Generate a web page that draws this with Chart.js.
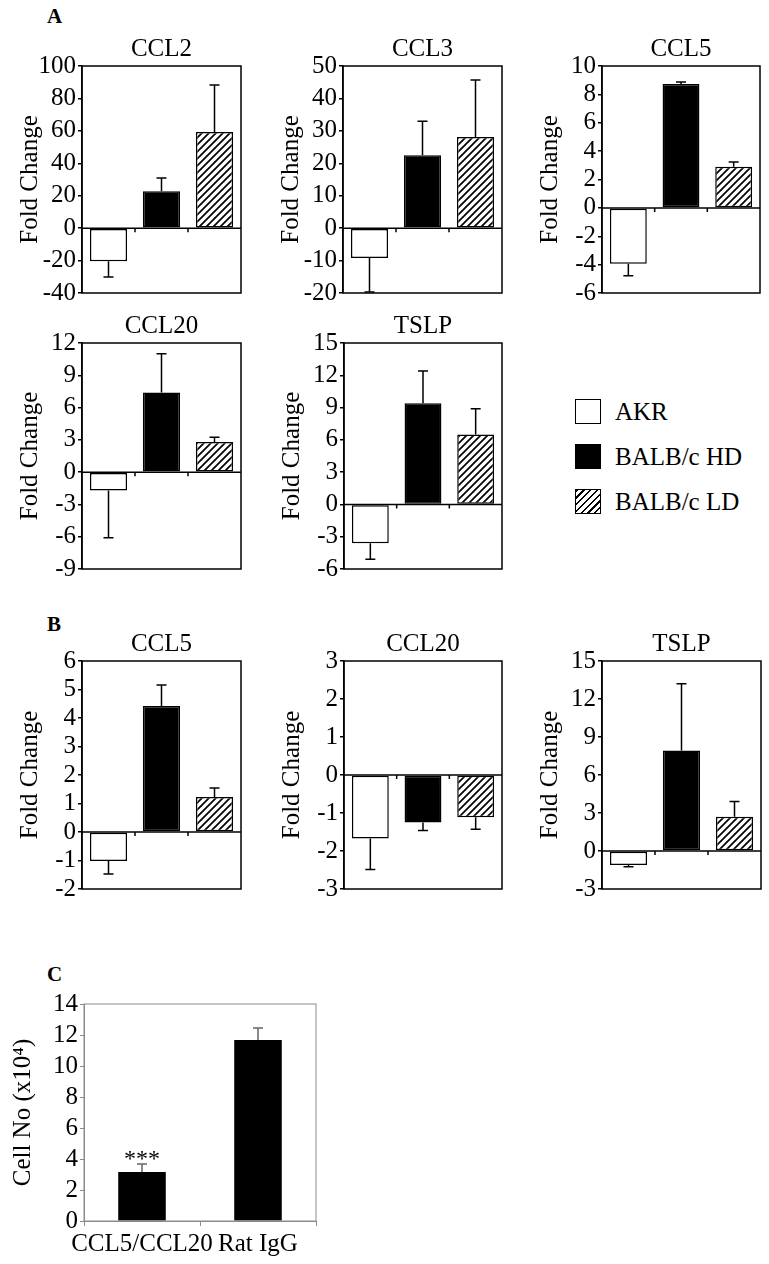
<!DOCTYPE html>
<html>
<head>
<meta charset="utf-8">
<script src="https://cdn.jsdelivr.net/npm/chart.js@4/dist/chart.umd.min.js"></script>
<style>
  body { margin: 0; background: #fff; }
  #fig { position: relative; width: 769px; height: 1264px; background: #fff; font-family: "Liberation Serif", "Times New Roman", serif; }
  .tag { position: absolute; font-weight: bold; font-size: 21px; color: #000; }
  .lg-box { position: absolute; left: 575px; width: 26px; height: 25px; border: 1.5px solid #000; box-sizing: border-box; }
  .lg-txt { position: absolute; left: 615px; font-size: 25px; color: #000; line-height: 26px; }
</style>
</head>
<body>
<div id="fig">
  <div class="tag" style="left:47px;top:4px">A</div>
  <div class="tag" style="left:47px;top:612px">B</div>
  <div class="tag" style="left:47px;top:962px">C</div>

  <div class="lg-box" style="top:399px;background:#fff"></div>
  <div class="lg-txt" style="top:399px">AKR</div>
  <div class="lg-box" style="top:444px;background:#000"></div>
  <div class="lg-txt" style="top:444px">BALB/c HD</div>
  <div class="lg-box" style="top:489px;background:repeating-linear-gradient(135deg,#000 0 1.6px,#fff 1.6px 4.8px)"></div>
  <div class="lg-txt" style="top:489px">BALB/c LD</div>
</div>
<script>
// groups
const groups = ['AKR', 'BALB/c HD', 'BALB/c LD'];

// panel A
const aCCL2 = [-20.4, 22.8, 59.3];
const aCCL2Err = [9.8, 8.1, 29];
const aCCL2Axis = [-40, 100, 20];

const aCCL3 = [-9.2, 22.5, 28.1];
const aCCL3Err = [10.5, 10.5, 17.6];
const aCCL3Axis = [-20, 50, 10];

const aCCL5 = [-3.94, 8.73, 2.89];
const aCCL5Err = [0.85, 0.14, 0.35];
const aCCL5Axis = [-6, 10, 2];

const aCCL20 = [-1.7, 7.4, 2.8];
const aCCL20Err = [4.4, 3.6, 0.45];
const aCCL20Axis = [-9, 12, 3];

const aTSLP = [-3.6, 9.4, 6.5];
const aTSLPErr = [1.5, 3.0, 2.4];
const aTSLPAxis = [-6, 15, 3];

// panel B
const bCCL5 = [-1.02, 4.42, 1.23];
const bCCL5Err = [0.45, 0.74, 0.31];
const bCCL5Axis = [-2, 6, 1];

const bCCL20 = [-1.67, -1.25, -1.11];
const bCCL20Err = [0.82, 0.21, 0.32];
const bCCL20Axis = [-3, 3, 1];

const bTSLP = [-1.1, 7.94, 2.7];
const bTSLPErr = [0.15, 5.26, 1.2];
const bTSLPAxis = [-3, 15, 3];

// panel C
const cLabels = ['CCL5/CCL20', 'Rat IgG'];
const cValues = [3.16, 11.68];
const cErr = [0.52, 0.77];
const cAxis = [0, 14, 2];

const FONT = '"Liberation Serif", "Times New Roman", serif';

function hatch() {
    const c = document.createElement('canvas');
    c.width = 7; c.height = 7;
    const g = c.getContext('2d');
    g.fillStyle = '#fff';
    g.fillRect(0, 0, 7, 7);
    g.strokeStyle = '#000';
    g.lineWidth = 1.7;
    g.beginPath();
    g.moveTo(-1, 8); g.lineTo(8, -1);
    g.moveTo(-1, 1); g.lineTo(1, -1);
    g.moveTo(6, 8); g.lineTo(8, 6);
    g.stroke();
    return g.createPattern(c, 'repeat');
}

// frame, zero line, error bars, titles
const deco = {
    id: 'deco',
    afterDatasetsDraw(chart) {
        const o = chart.options.plugins.deco;
        const { ctx, chartArea: a, scales: { x, y } } = chart;
        const meta = chart.getDatasetMeta(0);
        const vals = chart.data.datasets[0].data;
        ctx.save();
        ctx.lineCap = 'butt';

        // error bars
        ctx.strokeStyle = o.errColor;
        ctx.lineWidth = 1.5;
        vals.forEach((v, i) => {
            const end = v + Math.sign(v) * o.err[i];
            const px = meta.data[i].x;
            const p0 = y.getPixelForValue(v), p1 = y.getPixelForValue(end);
            ctx.beginPath();
            ctx.moveTo(px, p0); ctx.lineTo(px, p1);
            ctx.moveTo(px - 5, p1); ctx.lineTo(px + 5, p1);
            ctx.stroke();
        });

        // frame
        ctx.strokeStyle = o.frameColor;
        ctx.lineWidth = o.frameWidth;
        ctx.strokeRect(a.left, a.top, a.right - a.left, a.bottom - a.top);

        // zero line with category ticks
        if (o.zero) {
            const y0 = y.getPixelForValue(0);
            ctx.beginPath();
            ctx.moveTo(a.left, y0); ctx.lineTo(a.right, y0);
            for (let i = 0; i < vals.length - 1; i++) {
                const bx = (x.getPixelForValue(i) + x.getPixelForValue(i + 1)) / 2;
                ctx.moveTo(bx, y0); ctx.lineTo(bx, y0 + 4);
            }
            ctx.stroke();
        }

        ctx.fillStyle = '#000';
        ctx.textAlign = 'center';
        ctx.textBaseline = 'middle';
        if (o.title) {
            ctx.font = `25px ${FONT}`;
            ctx.fillText(o.title, (a.left + a.right) / 2, a.top - 17);
        }
        if (o.star) {
            const i = o.star.index;
            const top = y.getPixelForValue(vals[i] + o.err[i]);
            ctx.font = `24px ${FONT}`;
            ctx.fillText(o.star.text, meta.data[i].x, top - 4);
        }
        ctx.restore();
    }
};

function makePanel(o) {
    const axisW = o.axisW || 67;
    const padTop = 40, padRight = 12;
    const xH = o.labels ? 40 : 0;
    const padBottom = o.labels ? 4 : 18;
    const w = o.R - o.L + axisW + padRight;
    const h = o.B - o.T + padTop + xH + padBottom;
    const cv = document.createElement('canvas');
    cv.width = w; cv.height = h;
    cv.style.cssText = `position:absolute;left:${o.L - axisW}px;top:${o.T - padTop}px;width:${w}px;height:${h}px`;
    document.getElementById('fig').appendChild(cv);

    const axisColor = o.axisColor || '#000';
    const [min, max, step] = o.axis;
    const fills = o.fills || ['#fff', '#000', hatch()];

    return new Chart(cv, {
        type: 'bar',
        data: {
            labels: o.labels || groups,
            datasets: [{
                data: o.values,
                backgroundColor: fills,
                borderColor: '#000',
                borderWidth: o.labels ? 0 : 1.5,
                borderSkipped: false,
                categoryPercentage: 1,
                barPercentage: o.barPct || 0.7
            }]
        },
        options: {
            responsive: false,
            animation: false,
            layout: { padding: { left: 0, top: padTop, right: padRight, bottom: padBottom } },
            plugins: {
                legend: { display: false },
                tooltip: { enabled: false },
                deco: {
                    err: o.err, title: o.title, zero: !o.labels, star: o.star,
                    errColor: o.errColor || '#000',
                    frameColor: axisColor, frameWidth: o.labels ? 1 : 1.5
                }
            },
            scales: {
                x: {
                    display: !!o.labels,
                    afterFit: s => { s.height = xH; },
                    grid: { offset: true, drawOnChartArea: false, drawTicks: true, tickLength: 5, color: axisColor, lineWidth: 1 },
                    border: { display: true, color: axisColor, width: 1 },
                    ticks: { autoSkip: false, color: '#000', font: { family: FONT, size: 25 }, padding: 3, maxRotation: 0 }
                },
                y: {
                    min, max,
                    afterFit: s => { s.width = axisW; },
                    grid: { drawOnChartArea: false, drawTicks: true, tickLength: 4, color: axisColor, lineWidth: o.labels ? 1 : 1.5 },
                    border: { display: true, color: axisColor, width: o.labels ? 1 : 1.5 },
                    ticks: { stepSize: step, autoSkip: false, color: '#000', font: { family: FONT, size: 25 }, padding: 2 },
                    title: { display: true, text: o.yTitle || 'Fold Change', color: '#000', font: { family: FONT, size: 25 }, padding: { top: 0, bottom: 0 } }
                }
            }
        },
        plugins: [deco]
    });
}

function drawAll() {
    // panel A
    makePanel({ L: 82, T: 66, R: 241, B: 293, title: 'CCL2', axis: aCCL2Axis, values: aCCL2, err: aCCL2Err });
    makePanel({ L: 343, T: 66, R: 502, B: 293, title: 'CCL3', axis: aCCL3Axis, values: aCCL3, err: aCCL3Err });
    makePanel({ L: 602, T: 66, R: 760, B: 293, title: 'CCL5', axis: aCCL5Axis, values: aCCL5, err: aCCL5Err });
    makePanel({ L: 82, T: 343, R: 241, B: 569, title: 'CCL20', axis: aCCL20Axis, values: aCCL20, err: aCCL20Err });
    makePanel({ L: 344, T: 343, R: 502, B: 569, title: 'TSLP', axis: aTSLPAxis, values: aTSLP, err: aTSLPErr });

    // panel B
    makePanel({ L: 82, T: 661, R: 241, B: 889, title: 'CCL5', axis: bCCL5Axis, values: bCCL5, err: bCCL5Err });
    makePanel({ L: 344, T: 661, R: 502, B: 889, title: 'CCL20', axis: bCCL20Axis, values: bCCL20, err: bCCL20Err });
    makePanel({ L: 602, T: 661, R: 761, B: 889, title: 'TSLP', axis: bTSLPAxis, values: bTSLP, err: bTSLPErr });

    // panel C
    makePanel({
        L: 84, T: 1004, R: 316, B: 1221, axisW: 76, axis: cAxis, labels: cLabels,
        values: cValues, err: cErr, fills: ['#000', '#000'], barPct: 0.41,
        axisColor: '#8a8a8a', errColor: '#666', yTitle: 'Cell No (x10\u2074)',
        star: { index: 0, text: '***' }
    });
}

Promise.all([
    document.fonts.load('25px "Liberation Serif"'),
    document.fonts.load('25px "Times New Roman"')
]).catch(() => {}).then(drawAll);
</script>
</body>
</html>
